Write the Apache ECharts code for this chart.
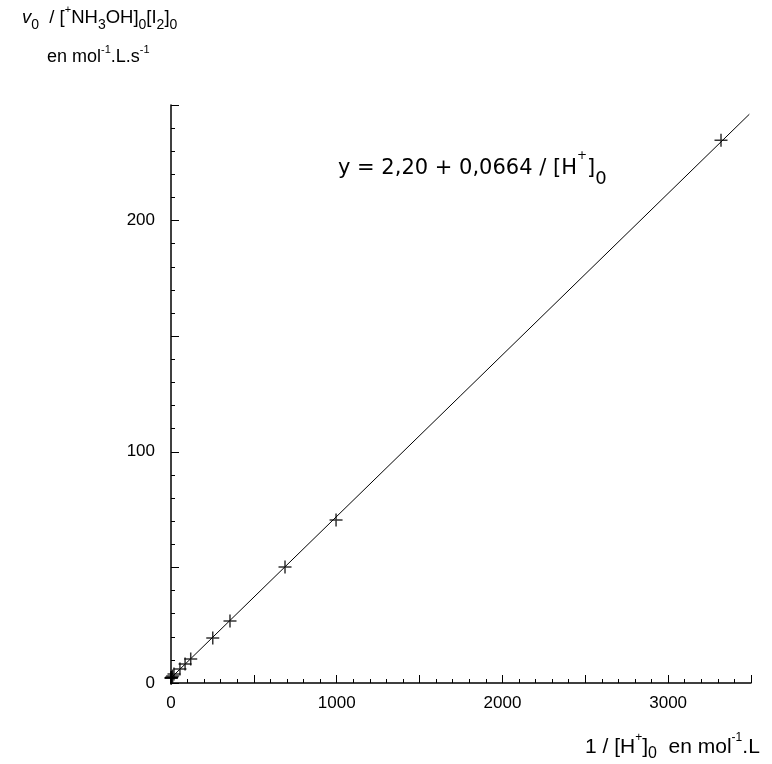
<!DOCTYPE html>
<html style="height: 100%">
<head>
    <meta charset="utf-8">
</head>
<body style="margin: 0; height: 100%; background: #ffffff">
<div id="container" style="width: 772px; height: 764px"></div>
<script type="text/javascript" src="https://cdn.jsdelivr.net/npm/echarts@6/dist/echarts.min.js"></script>
<script type="text/javascript">
    // points : 1/[H+]0 et v0/[NH3OH]0[I2]0
    var invH = [0.5, 1, 2, 3, 5, 10, 18, 54, 85, 119, 252, 356, 688, 996, 3319];
    var vRatio = [2.2, 2.2, 2.3, 2.4, 2.5, 3.0, 3.9, 6.1, 8.2, 10.4, 19.5, 26.8, 50.2, 70.5, 234.8];
    // extremites de la droite de regression tracee
    var fitX = [0, 3490];
    var fitY = [2.2, 246];

    var xTicks = { min: 0, max: 3500, step: 500, labelStep: 1000 };
    var yTicks = { min: 0, max: 250, step: 50, labelStep: 100 };

    var font = 'Liberation Sans, Arial, sans-serif';
    var wideFont = 'DejaVu Sans, sans-serif';

    var points = invH.map(function (x, i) { return [x, vRatio[i]]; });
    var fit = fitX.map(function (x, i) { return [x, fitY[i]]; });

    var dom = document.getElementById('container');
    var myChart = echarts.init(dom, null, { renderer: 'canvas' });

    function axisCommon(t, margin) {
        return {
            type: 'value',
            min: t.min,
            max: t.max,
            interval: t.step,
            axisLine: { show: true, lineStyle: { color: '#000', width: 1.5 } },
            axisTick: { show: true, inside: true, length: 8, lineStyle: { color: '#000', width: 1 } },
            minorTick: { show: true, splitNumber: 5, length: 4, lineStyle: { color: '#000', width: 1 } },
            splitLine: { show: false },
            minorSplitLine: { show: false },
            axisLabel: {
                color: '#000',
                fontSize: 17,
                fontFamily: font,
                margin: margin,
                showMaxLabel: true,
                formatter: function (v) { return v % t.labelStep === 0 ? String(v) : ''; }
            }
        };
    }

    var rich = function (f, size, sup, sub, lh) {
        return {
            m: { fontSize: size, fontFamily: f, lineHeight: lh, verticalAlign: 'middle', fill: '#000' },
            it: { fontSize: size, fontFamily: f, fontStyle: 'italic', lineHeight: lh, verticalAlign: 'middle', fill: '#000' },
            sup: { fontSize: sup, fontFamily: f, lineHeight: lh, verticalAlign: 'top', fill: '#000' },
            sub: { fontSize: sub, fontFamily: f, lineHeight: lh, verticalAlign: 'bottom', fill: '#000' }
        };
    };

    var option = {
        backgroundColor: '#ffffff',
        animation: false,
        grid: { left: 171, right: 21, top: 105, bottom: 81, containLabel: false },
        xAxis: axisCommon(xTicks, 12),
        yAxis: axisCommon(yTicks, 16),
        graphic: [
            {
                type: 'text', left: 22, top: 4,
                style: {
                    text: '{it|v}{sub|0}{m|  / [}{sup|+}{m|NH}{sub|3}{m|OH]}{sub|0}{m|[I}{sub|2}{m|]}{sub|0}',
                    rich: rich(font, 18.5, 11, 14, 28)
                }
            },
            {
                type: 'text', left: 47, top: 44,
                style: {
                    text: '{m|en mol}{sup|-1}{m|.L.s}{sup|-1}',
                    rich: rich(font, 18, 11, 14, 26)
                }
            },
            {
                type: 'text', left: 338, top: 150,
                style: {
                    text: '{m|y = 2,20 + 0,0664 / [H}{sup|+}{m|]}{sub|0}',
                    rich: rich(wideFont, 21, 12, 18, 38)
                }
            },
            {
                type: 'text', left: 585, top: 732,
                style: {
                    text: '{m|1 / [H}{sup|+}{m|]}{sub|0}{m|  en mol}{sup|-1}{m|.L}',
                    rich: rich(font, 21, 12, 16, 30)
                }
            }
        ],
        series: [
            {
                type: 'line',
                data: fit,
                symbol: 'none',
                lineStyle: { color: '#000', width: 1 },
                silent: true
            },
            {
                type: 'scatter',
                data: points,
                symbol: 'path://M0,6L12,6M6,0L6,12',
                symbolSize: 13,
                itemStyle: { color: 'rgba(0,0,0,0)', borderColor: '#000', borderWidth: 1.5 }
            }
        ]
    };

    myChart.setOption(option);
</script>
</body>
</html>
